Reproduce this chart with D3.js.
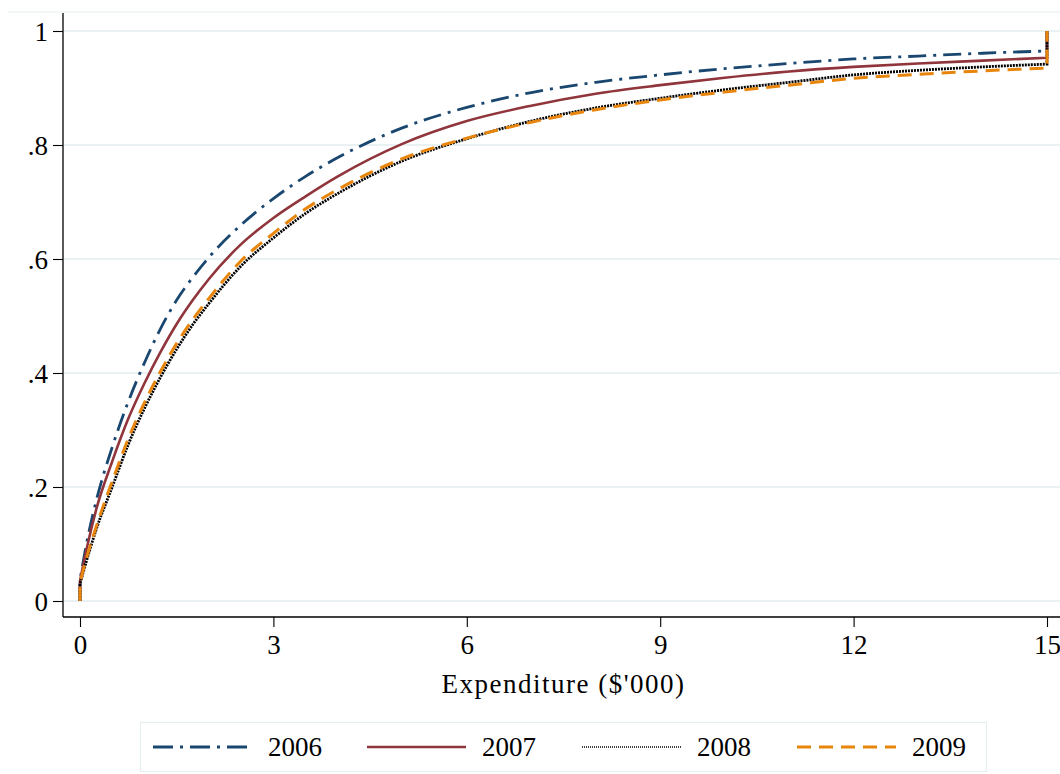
<!DOCTYPE html>
<html>
<head>
<meta charset="utf-8">
<script src="https://cdn.jsdelivr.net/npm/d3@7"></script>
<style>
  body { margin: 0; background: #fff; }
  text { font-family: "Liberation Serif", serif; fill: #000; }
</style>
</head>
<body>
<div id="chart"></div>
<script>
// values
const xVals = [0, 0.1, 0.25, 0.5, 0.75, 1, 1.25, 1.5, 1.75, 2, 2.5, 3, 3.5, 4, 5, 6, 7, 8, 9, 10, 11, 12, 13, 14, 15];
const y2006 = [0.037, 0.10, 0.175, 0.27, 0.35, 0.418, 0.478, 0.528, 0.568, 0.603, 0.66, 0.706, 0.745, 0.778, 0.83, 0.866, 0.892, 0.91, 0.923, 0.934, 0.943, 0.951, 0.956, 0.961, 0.965];
const y2007 = [0.035, 0.09, 0.16, 0.245, 0.32, 0.382, 0.437, 0.486, 0.528, 0.565, 0.626, 0.672, 0.71, 0.745, 0.802, 0.842, 0.869, 0.89, 0.905, 0.918, 0.929, 0.937, 0.943, 0.948, 0.953];
const y2008 = [0.03, 0.07, 0.125, 0.20, 0.275, 0.338, 0.393, 0.442, 0.485, 0.522, 0.588, 0.637, 0.68, 0.715, 0.772, 0.811, 0.842, 0.865, 0.882, 0.897, 0.91, 0.923, 0.931, 0.937, 0.942];
const y2009 = [0.033, 0.075, 0.13, 0.21, 0.285, 0.348, 0.403, 0.452, 0.494, 0.531, 0.597, 0.645, 0.688, 0.722, 0.776, 0.812, 0.84, 0.862, 0.879, 0.893, 0.905, 0.917, 0.924, 0.93, 0.935];
const years = ["2006", "2007", "2008", "2009"];
const xTicks = [0, 3, 6, 9, 12, 15];
const yTicks = [0, 0.2, 0.4, 0.6, 0.8, 1];
const yTickLabels = ["0", ".2", ".4", ".6", ".8", "1"];

const width = 1060, height = 774;
const svg = d3.select("#chart").append("svg")
  .attr("width", width)
  .attr("height", height);

const x = d3.scaleLinear().domain([0, 15]).range([80, 1047]);
const y = d3.scaleLinear().domain([0, 1]).range([601, 31]);

// top border of graph region
svg.append("line")
  .attr("x1", 8).attr("x2", width)
  .attr("y1", 12).attr("y2", 12)
  .attr("stroke", "#e6eef0").attr("stroke-width", 1.2);

// gridlines
svg.selectAll(".grid")
  .data(yTicks)
  .join("line")
  .attr("class", "grid")
  .attr("x1", 64).attr("x2", width)
  .attr("y1", d => y(d)).attr("y2", d => y(d))
  .attr("stroke", "#eaf1f2").attr("stroke-width", 2);

// axes
const yAxis = d3.axisLeft(y).tickValues(yTicks)
  .tickFormat((d, i) => yTickLabels[i]).tickSize(10).tickPadding(5);
const xAxis = d3.axisBottom(x).tickValues(xTicks).tickSize(10).tickPadding(8);

const gy = svg.append("g").attr("transform", "translate(63,0)").call(yAxis);
gy.select(".domain").attr("d", "M0,13V617");
const gx = svg.append("g").attr("transform", "translate(0,617)").call(xAxis);
gx.select(".domain").attr("d", "M63,0H" + width);
svg.selectAll(".domain").attr("stroke", "#000").attr("stroke-width", 1.3);
svg.selectAll(".tick line").attr("stroke", "#000").attr("stroke-width", 1.1);
svg.selectAll(".tick text").attr("font-size", 27)
  .attr("font-family", "Liberation Serif, serif").attr("fill", "#000");
gy.selectAll(".tick text").attr("dy", "0.34em");

svg.append("text")
  .attr("x", x(7.5)).attr("y", 693)
  .attr("text-anchor", "middle")
  .attr("font-size", 27)
  .attr("letter-spacing", 1.5)
  .text("Expenditure ($'000)");

// series
const styles = [
  { color: "#1a476f", dash: "18,7,3,7", w: 2.8 },
  { color: "#90353b", dash: null, w: 2.6 },
  { color: "#000000", dash: "2,1", w: 2.8 },
  { color: "#e8850c", dash: "14,8", w: 3 }
];
const series = [y2006, y2007, y2008, y2009];

const line = d3.line()
  .x(d => x(d[0]))
  .y(d => y(d[1]))
  .curve(d3.curveMonotoneX);

series.forEach((vals, i) => {
  const pts = xVals.map((v, j) => [v, vals[j]]);
  const d = "M" + x(0) + "," + y(0) + line(pts).replace(/^M/, "L") +
    "L" + x(15) + "," + y(1);
  svg.append("path")
    .attr("d", d)
    .attr("fill", "none")
    .attr("stroke", styles[i].color)
    .attr("stroke-width", styles[i].w)
    .attr("stroke-dasharray", styles[i].dash);
});

// legend
const legend = svg.append("g");
legend.append("rect")
  .attr("x", 140.5).attr("y", 722.5)
  .attr("width", 846).attr("height", 49)
  .attr("fill", "#fff").attr("stroke", "#e6eef0").attr("stroke-width", 1.2);

const legendX = [153, 367, 582, 797];
const legendDash = ["20,7,3,7", null, "1,1", "14,8"];
years.forEach((yr, i) => {
  legend.append("line")
    .attr("x1", legendX[i]).attr("x2", legendX[i] + 99)
    .attr("y1", 747).attr("y2", 747)
    .attr("stroke", styles[i].color)
    .attr("stroke-width", i === 2 ? 1.6 : styles[i].w)
    .attr("stroke-dasharray", legendDash[i]);
  legend.append("text")
    .attr("x", legendX[i] + 115).attr("y", 756)
    .attr("font-size", 27)
    .text(yr);
});
</script>
</body>
</html>
